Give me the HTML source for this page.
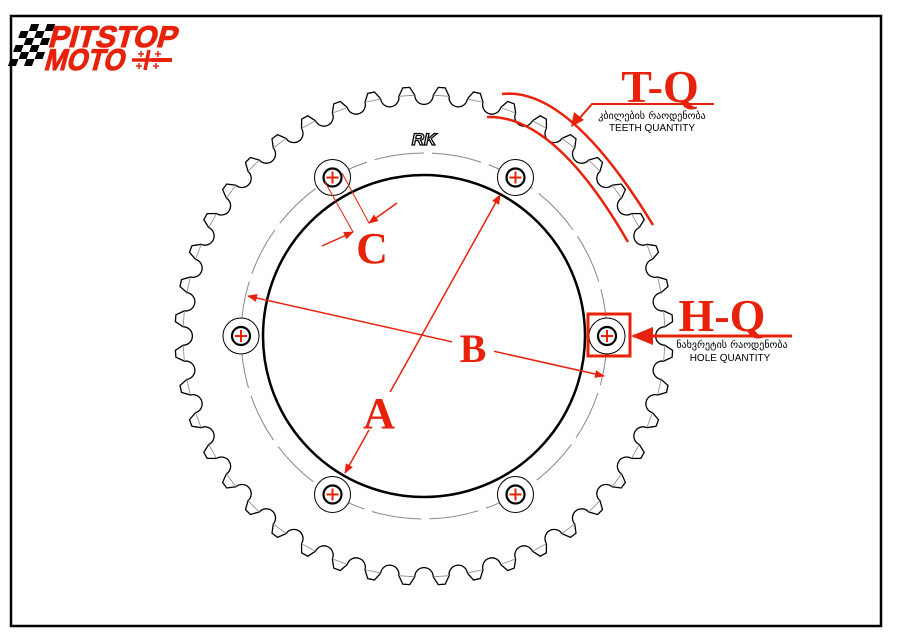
<!DOCTYPE html>
<html><head><meta charset="utf-8"><style>
html,body{margin:0;padding:0;background:#fff;}
svg{display:block;}
</style></head><body>
<svg id="s" width="900" height="636" viewBox="0 0 900 636" xmlns="http://www.w3.org/2000/svg">
<defs>
<marker id="ah" markerWidth="10" markerHeight="8" refX="9" refY="4" orient="auto" markerUnits="userSpaceOnUse"><path d="M0,0 L10,4 L0,8 Z" fill="#e8220a"/></marker>
<marker id="ahs" markerWidth="10" markerHeight="8" refX="1" refY="4" orient="auto" markerUnits="userSpaceOnUse"><path d="M10,0 L0,4 L10,8 Z" fill="#e8220a"/></marker>
<marker id="ahb" markerWidth="22" markerHeight="18" refX="20" refY="9" orient="auto" markerUnits="userSpaceOnUse"><path d="M0,0 L22,9 L0,18 Z" fill="#e8220a"/></marker>
</defs>
<rect x="11" y="16" width="870" height="610" fill="none" stroke="#000" stroke-width="2.5"/>

<!-- logo -->
<g transform="skewX(-20) translate(12,0)" fill="#000">
<rect x="28" y="24" width="8" height="7"/><rect x="44" y="24" width="8" height="7"/>
<rect x="20" y="31" width="8" height="7"/><rect x="36" y="31" width="8" height="7"/>
<rect x="28" y="38" width="8" height="7"/><rect x="44" y="38" width="8" height="7"/>
<rect x="20" y="45" width="8" height="7"/><rect x="36" y="45" width="8" height="7"/>
<rect x="28" y="52" width="8" height="7"/><rect x="44" y="52" width="8" height="7"/>
<rect x="20" y="59" width="8" height="7"/><rect x="36" y="59" width="8" height="7"/>
</g>
<g transform="skewX(-15)">
<text x="60" y="47" font-family="Liberation Sans, sans-serif" font-weight="bold" font-size="30" fill="#e8220a" stroke="#e8220a" stroke-width="1" textLength="128" lengthAdjust="spacingAndGlyphs">PITSTOP</text>
<text x="62" y="70" font-family="Liberation Sans, sans-serif" font-weight="bold" font-size="30" fill="#e8220a" stroke="#e8220a" stroke-width="1" textLength="80" lengthAdjust="spacingAndGlyphs">MOTO</text>
</g>
<g stroke="#e8220a" stroke-width="3.5"><line x1="132" y1="60" x2="160" y2="60"/><line x1="149" y1="50" x2="145" y2="70"/></g>
<g stroke="#e8220a" stroke-width="1.5"><line x1="138" y1="54" x2="144" y2="54"/><line x1="141" y1="51" x2="141" y2="57"/><line x1="155" y1="54" x2="161" y2="54"/><line x1="158" y1="51" x2="158" y2="57"/><line x1="136" y1="66" x2="142" y2="66"/><line x1="139" y1="63" x2="139" y2="69"/><line x1="153" y1="66" x2="159" y2="66"/><line x1="156" y1="63" x2="156" y2="69"/></g>
<rect x="152" y="58" width="20" height="4" fill="#e8220a"/>

<!-- sprocket -->
<path id="teeth" fill="none" stroke="#000" stroke-width="1.3"/>
<g id="chords" stroke="#888" stroke-width="0.8"></g>
<circle cx="424" cy="336" r="183" fill="none" stroke="#888" stroke-width="1" stroke-dasharray="50 8"/>
<circle cx="424" cy="336" r="161" fill="none" stroke="#000" stroke-width="2.5"/>
<g id="holes"></g>
<text x="424" y="145" text-anchor="middle" font-family="Liberation Sans, sans-serif" font-weight="bold" font-style="italic" font-size="17" fill="#fff" stroke="#000" stroke-width="1.3">RK</text>

<!-- dimensions -->
<g stroke="#e8220a" stroke-width="1.5" fill="none">
<line x1="345" y1="473" x2="500" y2="195" marker-start="url(#ahs)" marker-end="url(#ah)"/>
<line x1="248" y1="296" x2="604" y2="376" marker-start="url(#ahs)" marker-end="url(#ah)"/>
<line x1="325" y1="182" x2="353" y2="232" stroke-width="1"/>
<line x1="342" y1="173" x2="369" y2="223" stroke-width="1"/>
<line x1="322" y1="246" x2="353" y2="232" marker-end="url(#ah)"/>
<line x1="397" y1="203" x2="369" y2="223" marker-end="url(#ah)"/>
</g>
<rect x="452" y="330" width="42" height="36" fill="#fff"/>
<rect x="360" y="392" width="38" height="38" fill="#fff"/>
<g font-family="Liberation Serif, serif" font-weight="bold" fill="#e8220a" text-anchor="middle">
<text x="372" y="263" font-size="44">C</text>
<text x="473" y="362" font-size="40">B</text>
<text x="379" y="428" font-size="44">A</text>
<text x="660" y="102" font-size="46">T-Q</text>
<text x="722" y="331" font-size="46">H-Q</text>
</g>

<!-- T-Q arcs -->
<g stroke="#e8220a" stroke-width="2.5" fill="none">
<path d="M502,94 Q568.5,86.5 653,225"/>
<path d="M487,117 Q554.5,114.5 628,242"/>
<polyline points="714,104 592,104 578,120" stroke-width="2"/>
</g>
<path d="M571,127 L574,112 L584,120 Z" fill="#e8220a"/>
<g font-family="DejaVu Sans, sans-serif" fill="#000" text-anchor="middle">
<text x="652" y="119" font-size="10">კბილების რაოდენობა</text>
<text x="652" y="131" font-size="10" font-family="Liberation Sans, sans-serif">TEETH QUANTITY</text>
<text x="732" y="348" font-size="10">ნახვრეტის რაოდენობა</text>
<text x="730" y="361" font-size="10" font-family="Liberation Sans, sans-serif">HOLE QUANTITY</text>
</g>
<!-- H-Q -->
<rect x="588" y="314" width="42" height="42" fill="none" stroke="#e8220a" stroke-width="3"/>
<line x1="792" y1="336" x2="633" y2="336" stroke="#e8220a" stroke-width="3" marker-end="url(#ahb)"/>
</svg>
<script>
(function(){
var cx=424,cy=336,N=44,Rt=249,Rb=241;
var p=2*Math.PI/N, d="", ch="";
function pt(r,a){return [(cx+r*Math.sin(a)).toFixed(2),(cy-r*Math.cos(a)).toFixed(2)];}
var a1=0.8*Math.PI/180, a2=1.9*Math.PI/180;
for(var i=0;i<N;i++){
 var t=(i+0.5)*p;
 var A=pt(Rb,t-a2),B=pt(Rt,t-a1),C=pt(Rt,t+a1),D=pt(Rb,t+a2);
 var nxt=pt(Rb,t+p-a2);
 d+=(i==0?"M":"L")+A+" L"+B+" L"+C+" L"+D+" A9 9 0 0 0 "+nxt+" ";
 ch+='<line x1="'+A[0]+'" y1="'+A[1]+'" x2="'+D[0]+'" y2="'+D[1]+'"/>';
}
document.getElementById("teeth").setAttribute("d",d+"Z");
document.getElementById("chords").innerHTML=ch;
var h="";
for(var k=0;k<6;k++){
 var a=k*Math.PI/3+Math.PI/6, x=cx+183*Math.sin(a), y=cy-183*Math.cos(a);
 h+='<circle cx="'+x+'" cy="'+y+'" r="18" fill="#fff" stroke="#000" stroke-width="1"/>'+
 '<circle cx="'+x+'" cy="'+y+'" r="9" fill="#fff" stroke="#000" stroke-width="2.2"/>'+
 '<line x1="'+(x-6)+'" y1="'+y+'" x2="'+(x+6)+'" y2="'+y+'" stroke="#e8220a" stroke-width="2"/>'+
 '<line x1="'+x+'" y1="'+(y-6)+'" x2="'+x+'" y2="'+(y+6)+'" stroke="#e8220a" stroke-width="2"/>';
}
document.getElementById("holes").innerHTML=h;
})();
</script>
</body></html>
